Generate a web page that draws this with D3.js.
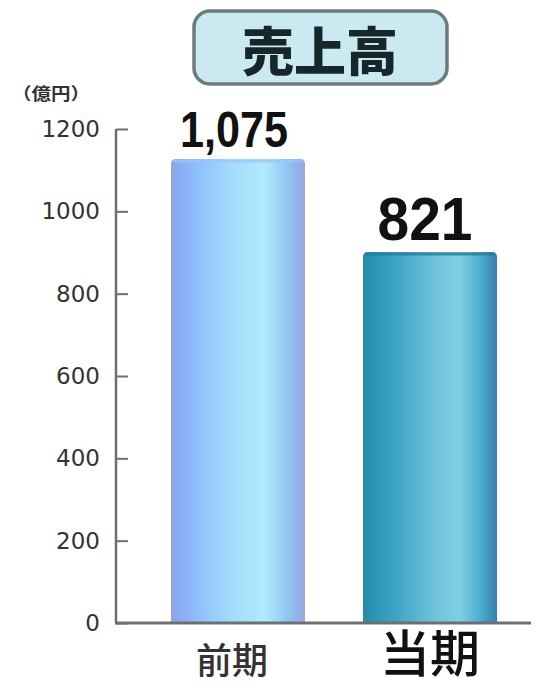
<!DOCTYPE html>
<html><head><meta charset="utf-8">
<script src="https://cdn.jsdelivr.net/npm/d3@7"></script>
<style>html,body{margin:0;padding:0;background:#fff;}svg{display:block;}</style>
</head><body>
<script>
const title = "売上高";
const unitLabel = "（億円）";
const categories = ["前期", "当期"];
const barHeights = [1127, 901];        // bar tops as drawn in the picture
const valueLabels = ["1,075", "821"];   // printed values
const tickValues = [0, 200, 400, 600, 800, 1000, 1200];

const W = 537, H = 690;
const svg = d3.select("body").append("svg").attr("width", W).attr("height", H);
const defs = svg.append("defs");

function grad(id, stops) {
  const g = defs.append("linearGradient").attr("id", id).attr("x1", "0").attr("x2", "1").attr("y1", "0").attr("y2", "0");
  stops.forEach(s => g.append("stop").attr("offset", s[0]).attr("stop-color", s[1]));
}
grad("g0", [[0, "#93a3d6"], [0.05, "#8aa8f6"], [0.25, "#93c6fa"], [0.45, "#a2dcfb"], [0.7, "#b0eafd"], [0.85, "#94caf4"], [0.95, "#8fb0ea"], [1, "#9aa8da"]]);
grad("g1", [[0, "#2a8aa6"], [0.06, "#2693b0"], [0.25, "#3ea4c6"], [0.5, "#6abfd8"], [0.72, "#80d0e2"], [0.87, "#4eb0d2"], [0.96, "#3a8cb4"], [1, "#3a7ea8"]]);

const y = d3.scaleLinear().domain([0, 1200]).range([623, 129]);
const x = d3.scaleBand().domain(categories).range([142, 526]).paddingInner(0.302).paddingOuter(0.151);

// Title box
svg.append("rect").attr("x", 194).attr("y", 11).attr("width", 253).attr("height", 73)
  .attr("rx", 16).attr("fill", "#cbe9f1").attr("stroke", "#6e7a7c").attr("stroke-width", 3.5);
svg.append("text").attr("x", 320).attr("y", 48).attr("text-anchor", "middle").attr("dominant-baseline", "central")
  .attr("font-family", "'Noto Sans CJK JP'").attr("font-weight", 900).attr("font-size", 52)
  .attr("fill", "#16272b").text(title);

// Unit label
svg.append("text").attr("x", 12).attr("y", 92).attr("dominant-baseline", "central")
  .attr("font-family", "'Noto Sans CJK JP'").attr("font-weight", 700).attr("font-size", 17)
  .attr("textLength", 78).attr("lengthAdjust", "spacingAndGlyphs")
  .attr("fill", "#333").text(unitLabel);

// Bars
const bw = x.bandwidth();
categories.forEach((c, i) => {
  const x0 = x(c), yt = y(barHeights[i]), yb = y(0), r = 5;
  const p = `M${x0},${yb} L${x0},${yt + r} Q${x0},${yt} ${x0 + r},${yt} L${x0 + bw - r},${yt} Q${x0 + bw},${yt} ${x0 + bw},${yt + r} L${x0 + bw},${yb} Z`;
  svg.append("path").attr("d", p).attr("fill", `url(#g${i})`);
  svg.append("path").attr("d", `M${x0 + 2},${yt + 2} L${x0 + bw - 2},${yt + 2}`)
    .attr("stroke", i === 0 ? "#9cc6f6" : "#2a7c9c").attr("stroke-width", 3).attr("opacity", 0.8);
});

// Y axis
const axis = d3.axisLeft(y).tickValues(tickValues).tickSize(-12).tickPadding(16).tickFormat(d3.format("d"));
const ag = svg.append("g").attr("transform", "translate(116,0)").call(axis);
ag.select(".domain").attr("stroke", "#6f6f6f").attr("stroke-width", 2.5).attr("d", "M0,129V623");
ag.selectAll(".tick line").attr("stroke", "#6f6f6f").attr("stroke-width", 2);
ag.selectAll(".tick text").attr("font-family", "'DejaVu Sans'").attr("font-size", 23).attr("fill", "#333");

// Baseline
svg.append("line").attr("x1", 115).attr("x2", 531).attr("y1", y(0)).attr("y2", y(0))
  .attr("stroke", "#6f6f6f").attr("stroke-width", 3);

// Value labels
const labelSpec = [{size: 50, len: 108, dx: -4}, {size: 62, len: 95, dx: -5}];
categories.forEach((c, i) => {
  const cx = x(c) + bw / 2 + labelSpec[i].dx;
  svg.append("text").attr("x", cx).attr("y", y(barHeights[i]) - 12)
    .attr("text-anchor", "middle").attr("font-family", "'Liberation Sans'").attr("font-weight", 700)
    .attr("font-size", labelSpec[i].size).attr("textLength", labelSpec[i].len).attr("lengthAdjust", "spacingAndGlyphs")
    .attr("fill", "#111").text(valueLabels[i]);
});

// Category labels (alphabetic baseline)
const catSpec = [{size: 36, base: 674, dx: -6, fill: "#333", w: 500}, {size: 50, base: 672, dx: 0, fill: "#111", w: 500}];
categories.forEach((c, i) => {
  svg.append("text").attr("x", x(c) + bw / 2 + catSpec[i].dx).attr("y", catSpec[i].base)
    .attr("text-anchor", "middle")
    .attr("font-family", "'Noto Sans CJK JP'").attr("font-weight", catSpec[i].w)
    .attr("font-size", catSpec[i].size).attr("fill", catSpec[i].fill).text(c);
});
</script>
</body></html>
